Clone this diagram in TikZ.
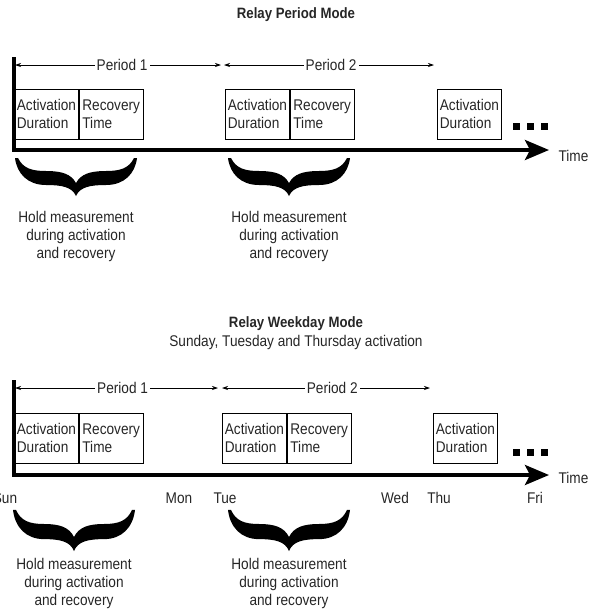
\documentclass[tikz,border=0pt]{standalone}
\usepackage{fontspec}
\setmainfont{Liberation Sans}[FakeStretch=0.88]
\usetikzlibrary{arrows.meta}

\begin{document}
\begin{tikzpicture}[x=1pt, y=-1pt,
	every node/.style={font=\fontsize{15.5}{18}\selectfont, text=black!85},
	heading/.style={font=\fontsize{15}{17}\selectfont\bfseries},
	box/.style={draw, line width=0.8pt, anchor=north west, minimum width=64pt, minimum height=50pt, inner sep=2pt, align=left},
	axis/.style={line width=3.5pt, -{Stealth[length=24pt, width=20pt, inset=5pt]}},
	period/.style={line width=0.7pt, {Stealth[length=6pt, width=4pt]}-{Stealth[length=6pt, width=4pt]}},
	plabel/.style={fill=white, inner sep=2pt},
	note/.style={align=center, anchor=north, inner sep=0pt},
	holdbrace/.pic={\fill (-61,-38) .. controls (-59,-22) and (-48,-11) .. (-30,-11) .. controls (-14,-11) and (-4,-9) .. (0,0) .. controls (4,-9) and (14,-11) .. (30,-11) .. controls (48,-11) and (59,-22) .. (61,-38) -- (58,-38) .. controls (53,-28) and (45,-25) .. (30,-25) .. controls (14,-25) and (5,-22) .. (0,-13) .. controls (-5,-22) and (-14,-25) .. (-30,-25) .. controls (-45,-25) and (-53,-28) .. (-58,-38) -- cycle;}]
	\useasboundingbox (0,0) rectangle (592,611);

	% Relay period mode
	\node[heading] (title1) at (296,15) {Relay Period Mode};
	\coordinate (top1) at (14,57);
	\coordinate (org1) at (14,150);
	\coordinate (end1) at (549,150);
	\node[box] (act1) at (14,89) {Activation\\Duration};
	\node[box] (rec1) at (act1.north east) {Recovery\\Time};
	\node[box] (act2) at (225,89) {Activation\\Duration};
	\node[box] (rec2) at (act2.north east) {Recovery\\Time};
	\node[box] (act3) at (437,89) {Activation\\Duration};
	\foreach \x in {513,527,541} \fill (\x,123) rectangle ++(7,7);
	\draw[axis] (top1) -- (org1) -- (end1);
	\node[anchor=west] (time1) at (555,156) {Time};
	\coordinate (pa1) at (15,65);
	\coordinate (pb1) at (221,65);
	\coordinate (pc1) at (224,65);
	\coordinate (pd1) at (434,65);
	\draw[period] (pa1) -- (pb1) node[plabel, pos=0.52] {Period 1};
	\draw[period] (pc1) -- (pd1) node[plabel, pos=0.51] {Period 2};
	\pic at (76,196) {holdbrace};
	\pic at (289,196) {holdbrace};
	\node[note] (hold1) at (76,211) {Hold measurement\\during activation\\and recovery};
	\node[note] (hold2) at (289,211) {Hold measurement\\during activation\\and recovery};

	% Relay weekday mode
	\node[heading] (title2) at (296,324) {Relay Weekday Mode};
	\node (sub2) at (296,342) {Sunday, Tuesday and Thursday activation};
	\coordinate (top2) at (14,380);
	\coordinate (org2) at (14,475);
	\coordinate (end2) at (549,475);
	\node[box] (act4) at (14,413) {Activation\\Duration};
	\node[box] (rec4) at (act4.north east) {Recovery\\Time};
	\node[box] (act5) at (222,413) {Activation\\Duration};
	\node[box] (rec5) at (act5.north east) {Recovery\\Time};
	\node[box] (act6) at (433,413) {Activation\\Duration};
	\foreach \x in {513,527,541} \fill (\x,449) rectangle ++(7,7);
	\draw[axis] (top2) -- (org2) -- (end2);
	\node[anchor=west] (time2) at (555,478) {Time};
	\coordinate (pa2) at (15,388);
	\coordinate (pb2) at (218,388);
	\coordinate (pc2) at (222,388);
	\coordinate (pd2) at (430,388);
	\draw[period] (pa2) -- (pb2) node[plabel, pos=0.53] {Period 1};
	\draw[period] (pc2) -- (pd2) node[plabel, pos=0.53] {Period 2};
	\node (sun) at (5,498) {Sun};
	\node (mon) at (179,498) {Mon};
	\node (tue) at (225,498) {Tue};
	\node (wed) at (395,498) {Wed};
	\node (thu) at (439,498) {Thu};
	\node (fri) at (535,498) {Fri};
	\pic[yscale=1.08] at (74,551) {holdbrace};
	\pic[yscale=1.08] at (289,551) {holdbrace};
	\node[note] (hold4) at (74,558) {Hold measurement\\during activation\\and recovery};
	\node[note] (hold5) at (289,558) {Hold measurement\\during activation\\and recovery};
\end{tikzpicture}
\end{document}
